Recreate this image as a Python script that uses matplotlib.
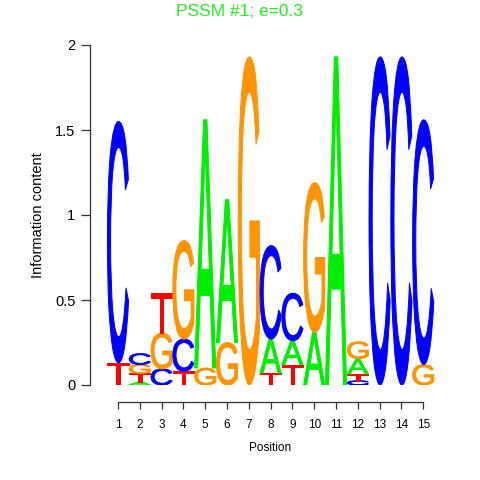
import matplotlib
matplotlib.use("Agg")
import matplotlib.pyplot as plt
from matplotlib.textpath import TextPath
from matplotlib.font_manager import FontProperties
from matplotlib.patches import PathPatch
from matplotlib.transforms import Affine2D

plt.rcParams["font.family"] = ["Liberation Sans", "DejaVu Sans"]

# information content per base at each position (bits)
positions = list(range(1, 16))
height_A = [0.00, 0.02, 0.00, 0.00, 1.46, 0.84, 0.00, 0.20, 0.14, 0.31, 1.93, 0.09, 0.00, 0.00, 0.00]
height_C = [1.42, 0.065, 0.095, 0.19, 0.00, 0.00, 0.00, 0.55, 0.28, 0.00, 0.00, 0.025, 1.93, 1.93, 1.44]
height_G = [0.00, 0.052, 0.21, 0.58, 0.10, 0.25, 1.93, 0.00, 0.00, 0.88, 0.00, 0.10, 0.00, 0.00, 0.12]
height_T = [0.13, 0.048, 0.235, 0.08, 0.00, 0.00, 0.00, 0.07, 0.12, 0.00, 0.00, 0.04, 0.00, 0.00, 0.00]

colors = {"A": "#00EE00", "C": "#0000FF", "G": "#FF9400", "T": "#FF0000"}
yticks = [0, 0.5, 1, 1.5, 2]
ytick_labels = ["0", "0.5", "1", "1.5", "2"]

fp = FontProperties(family="Liberation Sans", weight="normal")


def draw_letter(ax, ch, x, y0, w, h, color):
    tp = TextPath((0, 0), ch, size=1, prop=fp)
    bb = tp.get_extents()
    tr = (Affine2D().translate(-bb.x0, -bb.y0)
          .scale(w / bb.width, h / bb.height)
          .translate(x - w / 2, y0))
    ax.add_patch(PathPatch(tr.transform_path(tp), fc=color, ec=color,
                           lw=0.7, joinstyle="round"))


fig = plt.figure(figsize=(4.8, 4.8), dpi=100)
# axes box: left edge at 90px, y=0 at 385px, y=2 at 45px
ax = fig.add_axes([90 / 480, 1 - 385 / 480, 360 / 480, 340 / 480])

step = 21.8
ax.set_xlim(1 - 28 / step, 1 + 332 / step)
ax.set_ylim(0, 2)

for i, p in enumerate(positions):
    stack = [("A", height_A[i]), ("C", height_C[i]),
             ("G", height_G[i]), ("T", height_T[i])]
    stack.sort(key=lambda s: s[1])
    y = 0.0
    for ch, h in stack:
        if h <= 0:
            continue
        draw_letter(ax, ch, p, y, 0.97, h, colors[ch])
        y += h

for s in ["top", "right"]:
    ax.spines[s].set_visible(False)
ax.spines["bottom"].set_position(("outward", 12.2))
ax.spines["bottom"].set_bounds(1, 15)
ax.spines["left"].set_bounds(0, 2)
for s in ["bottom", "left"]:
    ax.spines[s].set_color("#333333")
    ax.spines[s].set_linewidth(0.9)

ax.set_xticks(positions)
ax.set_xticklabels([str(p) for p in positions], fontsize=8.5)
ax.set_yticks(yticks)
ax.set_yticklabels(ytick_labels, fontsize=10.5)
ax.tick_params(axis="y", length=6.5, width=0.9, color="#333333", pad=4)
ax.tick_params(axis="x", length=5, width=0.9, color="#333333", pad=7)

ax.set_xlabel("Position", fontsize=8.5, labelpad=8)
ax.set_ylabel("Information content", fontsize=10.5, labelpad=7)
fig.text(0.5, 1 - 12 / 480, "PSSM #1; e=0.3", color="#22EE22",
         fontsize=12.5, ha="center", va="center")

fig.savefig("out.png", dpi=100)
